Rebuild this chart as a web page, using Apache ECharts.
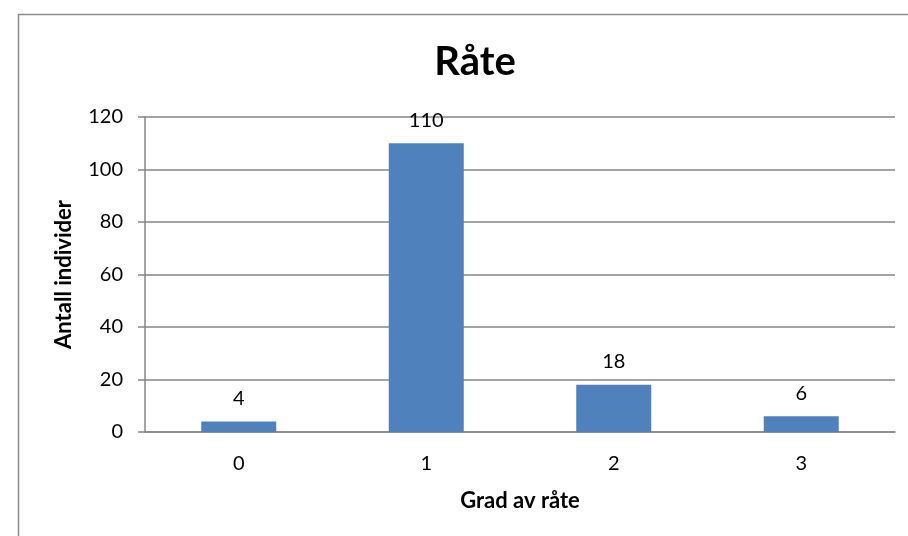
<!DOCTYPE html>
<html>
<head>
<meta charset="utf-8">
<title>Råte</title>
<script src="https://cdn.jsdelivr.net/npm/echarts@6/dist/echarts.min.js"></script>
<style>
  html, body { margin: 0; padding: 0; background: #fff; }
  #chart { width: 908px; height: 536px; }
</style>
</head>
<body>
<div id="chart"></div>
<script>
var categories = ['0', '1', '2', '3'];
var counts = [4, 110, 18, 6];
var yTicks = [0, 20, 40, 60, 80, 100, 120];

var font = 'Lato, "Open Sans", sans-serif';
var chart = echarts.init(document.getElementById('chart'));

chart.setOption({
  backgroundColor: '#fff',
  animation: false,
  graphic: [{
    type: 'rect',
    shape: { x: 18.5, y: 14.5, width: 1000, height: 1000 },
    style: { fill: 'none', stroke: '#8c8c8c', lineWidth: 1.5 }
  }],
  title: {
    text: 'Råte',
    left: 470, top: 37, textAlign: 'center',
    textStyle: { fontFamily: font, fontSize: 40, fontWeight: 'bold', color: '#000' }
  },
  grid: { left: 145, top: 117, right: 13, bottom: 104 },
  xAxis: {
    type: 'category',
    data: categories,
    name: 'Grad av råte',
    nameLocation: 'middle',
    nameGap: 58,
    nameTextStyle: { fontFamily: font, fontSize: 22, fontWeight: 'bold', color: '#000' },
    axisLine: { lineStyle: { color: '#868686', width: 1.5 } },
    axisTick: { show: false },
    axisLabel: { fontFamily: font, fontSize: 20, color: '#000', margin: 22 }
  },
  yAxis: {
    type: 'value',
    min: yTicks[0], max: yTicks[yTicks.length - 1], interval: 20,
    name: 'Antall individer',
    nameLocation: 'middle',
    nameGap: 70,
    nameRotate: 90,
    nameTextStyle: { fontFamily: font, fontSize: 22, fontWeight: 'bold', color: '#000' },
    axisLine: { show: true, lineStyle: { color: '#868686', width: 1.5 } },
    axisTick: { show: true, length: 7, lineStyle: { color: '#868686', width: 1.5 } },
    axisLabel: { fontFamily: font, fontSize: 20, color: '#000', margin: 22 },
    splitLine: { lineStyle: { color: '#868686', width: 1.5 } }
  },
  series: [{
    type: 'bar',
    data: counts,
    barWidth: '40%',
    itemStyle: { color: '#4f81bd' },
    label: {
      show: true, position: 'top', distance: 13,
      fontFamily: font, fontSize: 20, color: '#000'
    }
  }]
});
</script>
</body>
</html>
